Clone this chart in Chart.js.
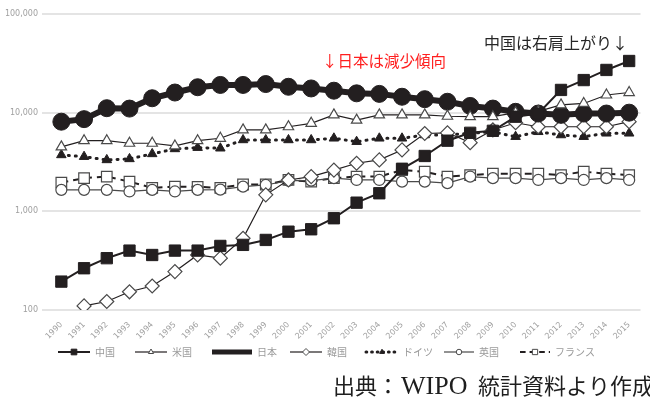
<!DOCTYPE html>
<html>
<head>
<meta charset="utf-8">
<script src="https://cdn.jsdelivr.net/npm/chart.js@4.4.1/dist/chart.umd.min.js"></script>
<style>
  html, body { margin: 0; padding: 0; background: #fff; }
  canvas { display: block; }
</style>
</head>
<body>
<canvas id="chart" width="650" height="398"></canvas>
<script>
// Patent application counts by country, 1990–2015 (log scale)
const years = ['1990','1991','1992','1993','1994','1995','1996','1997','1998','1999','2000','2001','2002',
               '2003','2004','2005','2006','2007','2008','2009','2010','2011','2012','2013','2014','2015'];

const china   = [194,265,335,400,361,400,400,446,457,513,622,658,851,1224,1525,2700,3640,5200,6250,6550,9100,9800,17000,21400,27100,33400];
const usa     = [4500,5200,5200,4900,4900,4600,5200,5500,6700,6700,7200,7800,9500,8400,9500,9500,9500,9200,9100,9100,10000,10300,12000,12400,15100,16000];
const japan   = [8100,8600,11100,11000,14000,16000,18100,19100,19100,19500,18300,17600,16700,15700,15500,14500,13700,12900,11700,11000,10200,9800,9500,9800,9800,10000];
const korea   = [null,110,122,153,175,245,361,335,533,1470,2080,2250,2620,3070,3320,4190,6150,6250,4970,6680,7900,7200,7200,7200,7200,8100];
const germany = [3730,3580,3320,3400,3820,4290,4420,4360,5290,5290,5290,5290,5500,5080,5500,5500,5940,5940,6180,6400,5710,6400,5940,5710,6180,6180];
const uk      = [1650,1650,1650,1590,1650,1590,1650,1660,1780,1850,2050,2050,2170,2080,2080,2000,2000,1930,2250,2170,2170,2080,2170,2080,2170,2080];
const france  = [1955,2170,2250,2000,1730,1780,1770,1730,1870,1870,2080,2000,2170,2250,2250,2620,2520,2250,2330,2410,2410,2410,2330,2520,2410,2330];

const seriesNames = ['中国','米国','日本','韓国','ドイツ','英国','フランス'];
const yTickValues = [100, 1000, 10000, 100000];
const yTickLabels = ['100', '1,000', '10,000', '100,000'];

const noteJapan  = '↓日本は減少傾向';
const noteChina  = '中国は右肩上がり↓';
const sourceParts = ['出典：', 'WIPO', '統計資料より作成'];

const INK = '#231f20';
const OPEN = '#4a4a4a';

const datasets = [
  { label: seriesNames[0], data: china, borderColor: INK, borderWidth: 2,
    pointStyle: 'rect', pointRadius: 8, pointBackgroundColor: INK, pointBorderColor: INK, pointBorderWidth: 1 },
  { label: seriesNames[1], data: usa, borderColor: INK, borderWidth: 1.2,
    pointStyle: 'triangle', pointRadius: 6, pointBackgroundColor: '#fff', pointBorderColor: OPEN, pointBorderWidth: 1.2 },
  { label: seriesNames[2], data: japan, borderColor: INK, borderWidth: 6,
    pointStyle: 'circle', pointRadius: 8.5, pointBackgroundColor: INK, pointBorderColor: INK, pointBorderWidth: 1 },
  { label: seriesNames[3], data: korea, borderColor: INK, borderWidth: 1.2,
    pointStyle: 'rectRot', pointRadius: 7, pointBackgroundColor: '#fff', pointBorderColor: OPEN, pointBorderWidth: 1.2 },
  { label: seriesNames[4], data: germany, borderColor: INK, borderWidth: 3, borderDash: [1, 6], borderCapStyle: 'round',
    pointStyle: 'triangle', pointRadius: 5.5, pointBackgroundColor: INK, pointBorderColor: INK, pointBorderWidth: 1 },
  { label: seriesNames[5], data: uk, borderColor: OPEN, borderWidth: 1.2,
    pointStyle: 'circle', pointRadius: 5.5, pointBackgroundColor: '#fff', pointBorderColor: OPEN, pointBorderWidth: 1.2 },
  { label: seriesNames[6], data: france, borderColor: INK, borderWidth: 2, borderDash: [7, 5],
    pointStyle: 'rect', pointRadius: 7.5, pointBackgroundColor: '#fff', pointBorderColor: OPEN, pointBorderWidth: 1.2 }
];

// Legend drawn beneath the axis: line sample with its marker, then the name
const legendPlugin = {
  id: 'sampleLegend',
  afterDraw(chart) {
    const ctx = chart.ctx;
    const y = 352;
    const starts = [58, 135, 212, 290, 366, 444, 520];
    const lens = [32, 32, 40, 32, 32, 30, 30];
    ctx.save();
    chart.data.datasets.forEach((ds, i) => {
      const x0 = starts[i], x1 = x0 + lens[i];
      ctx.save();
      ctx.strokeStyle = ds.borderColor;
      ctx.lineWidth = Math.min(ds.borderWidth, 5);
      ctx.lineCap = ds.borderCapStyle || 'butt';
      ctx.setLineDash(ds.borderDash ? ds.borderDash.map(v => v * 0.8) : []);
      ctx.beginPath();
      ctx.moveTo(x0, y);
      ctx.lineTo(x1, y);
      ctx.stroke();
      ctx.restore();
      if (i !== 2) {
        ctx.save();
        ctx.fillStyle = ds.pointBackgroundColor;
        ctx.strokeStyle = ds.pointBorderColor;
        ctx.lineWidth = 1;
        Chart.helpers.drawPoint(ctx, { pointStyle: ds.pointStyle, radius: ds.pointRadius * 0.5, rotation: 0, borderWidth: 1 }, (x0 + x1) / 2, y);
        ctx.restore();
      }
      ctx.fillStyle = '#9a9a9a';
      ctx.font = '10px "Noto Sans CJK JP", sans-serif';
      ctx.textBaseline = 'middle';
      ctx.textAlign = 'left';
      ctx.fillText(ds.label, x1 + 5, y);
    });
    ctx.restore();
  }
};

// Callout notes and the source line
const notesPlugin = {
  id: 'notes',
  afterDraw(chart) {
    const ctx = chart.ctx;
    ctx.save();
    ctx.textBaseline = 'middle';
    ctx.textAlign = 'left';
    ctx.font = '15.5px "Noto Sans CJK JP", sans-serif';
    ctx.fillStyle = '#ff1f1f';
    ctx.fillText(noteJapan, 322, 61);
    ctx.font = '16px "Noto Sans CJK JP", sans-serif';
    ctx.fillStyle = '#262626';
    ctx.fillText(noteChina, 484, 43);

    ctx.fillStyle = '#1e1e1e';
    ctx.font = '22px "Noto Sans CJK JP", serif';
    ctx.fillText(sourceParts[0], 333, 386);
    ctx.font = '26px "Liberation Serif", serif';
    ctx.fillText(sourceParts[1], 401, 387);
    ctx.font = '22px "Noto Sans CJK JP", serif';
    ctx.fillText(sourceParts[2], 478, 386);
    ctx.restore();
  }
};

new Chart(document.getElementById('chart'), {
  type: 'line',
  data: { labels: years, datasets },
  options: {
    responsive: false,
    animation: false,
    devicePixelRatio: 1,
    layout: { padding: { left: 0, right: 0, top: 14, bottom: 0 } },
    elements: { line: { tension: 0, fill: false } },
    plugins: { legend: { display: false }, tooltip: { enabled: false } },
    scales: {
      x: {
        type: 'category',
        offset: true,
        grid: { display: false },
        border: { display: false },
        ticks: {
          autoSkip: false, maxRotation: 45, minRotation: 45, padding: 2,
          color: '#a0a0a0', font: { family: 'DejaVu Sans', size: 8 }
        },
        afterFit(scale) { scale.height = 88; }
      },
      y: {
        type: 'logarithmic',
        min: 100,
        max: 100000,
        border: { display: false },
        grid: { color: '#e4e4e4', lineWidth: 2, drawTicks: true, tickLength: 8 },
        ticks: {
          padding: 4, color: '#a0a0a0', font: { family: 'DejaVu Sans', size: 8 },
          callback(value) {
            const i = yTickValues.indexOf(value);
            return i >= 0 ? yTickLabels[i] : '';
          }
        },
        afterBuildTicks(scale) { scale.ticks = yTickValues.map(v => ({ value: v })); },
        afterFit(scale) { scale.width = 50; }
      }
    }
  },
  plugins: [legendPlugin, notesPlugin]
});
</script>
</body>
</html>
